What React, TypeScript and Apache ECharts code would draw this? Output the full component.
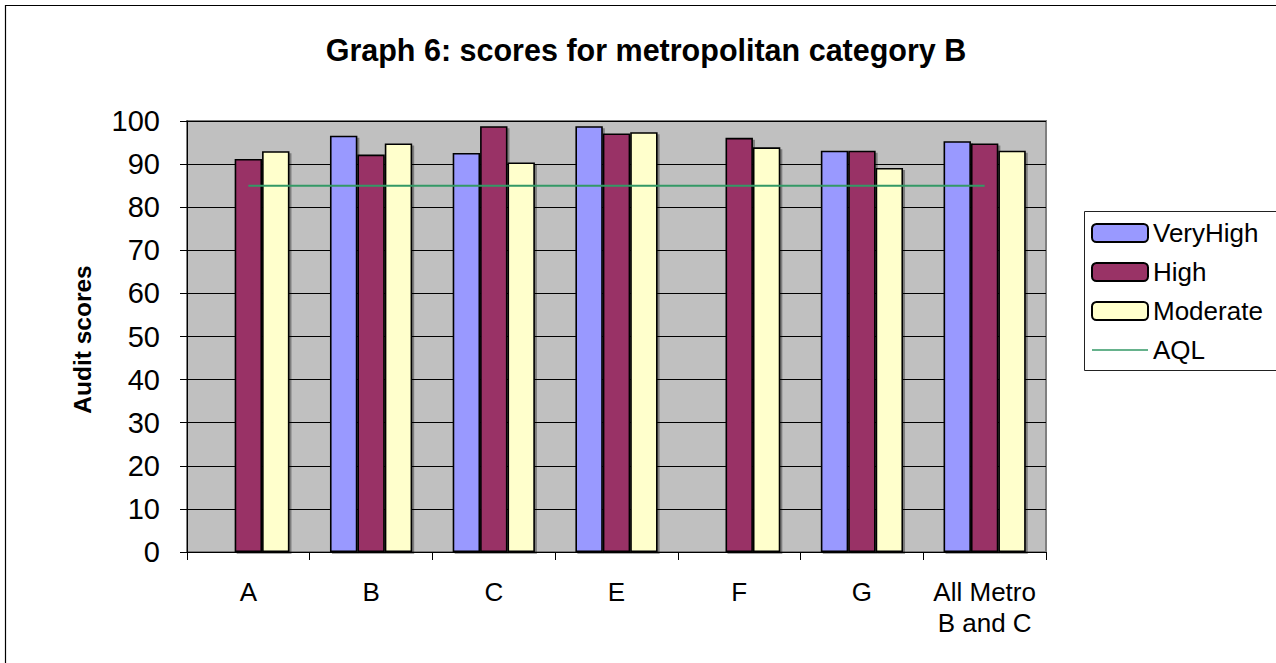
import React, { useEffect, useRef } from "react";
import * as echarts from "echarts";

const categories = ["A", "B", "C", "E", "F", "G", "All Metro\nB and C"];
const veryHigh = [null, 96.6, 92.6, 98.8, null, 93.1, 95.3];
const high = [91.2, 92.2, 98.8, 97.1, 96.1, 93.1, 94.8];
const moderate = [93.0, 94.8, 90.4, 97.4, 93.9, 89.1, 93.1];
const aql = [85, 85, 85, 85, 85, 85, 85];
const yTicks = [0, 10, 20, 30, 40, 50, 60, 70, 80, 90, 100];

export default function App() {
  const ref = useRef<HTMLDivElement>(null);
  useEffect(() => {
    if (!ref.current) return;
    const chart = echarts.init(ref.current, undefined, { renderer: "svg" });
    const font = "Arial, 'Liberation Sans', sans-serif";
    const barStyle = (color: string) => ({
      color,
      borderColor: "#000",
      borderWidth: 1.6,
      shadowColor: "rgba(0,0,0,0.35)",
      shadowOffsetX: 2,
      shadowOffsetY: 2,
      shadowBlur: 0,
    });
    chart.setOption({
      animation: false,
      textStyle: { fontFamily: font },
      title: {
        text: "Graph 6: scores for metropolitan category B",
        left: 641,
        textAlign: "center",
        top: 29,
        textStyle: { fontSize: 30.5, fontWeight: "bold", color: "#000", fontFamily: font },
      },
      graphic: [
        {
          type: "polyline",
          shape: { points: [[5.5, 700], [5.5, 5.5], [1400, 5.5]] },
          style: { fill: "none", stroke: "#000", lineWidth: 1.2 },
          silent: true,
          z: -10,
        },
        {
          type: "rect",
          shape: { x: 187, y: 121, width: 859, height: 431 },
          style: { fill: "none", stroke: "#808080", lineWidth: 2 },
          silent: true,
          z: 0,
        },
        {
          type: "polyline",
          shape: { points: [[1400, 211.5], [1084.5, 211.5], [1084.5, 370.5], [1400, 370.5]] },
          style: { fill: "none", stroke: "#222", lineWidth: 1 },
          silent: true,
          z: -5,
        },
      ],
      grid: { left: 187, top: 121, width: 859, height: 431, backgroundColor: "#C0C0C0", show: true, borderWidth: 0 },
      legend: {
        orient: "vertical",
        left: 1084,
        top: 211,
        itemWidth: 56,
        itemHeight: 18,
        itemGap: 13,
        padding: [9, 5, 8, 7],
        borderWidth: 0,
        textStyle: { fontSize: 26, color: "#000", lineHeight: 26, fontFamily: font },
        data: [
          { name: "VeryHigh" },
          { name: "High" },
          { name: "Moderate" },
          { name: "AQL", icon: "path://M0,0L56,0L56,1.6L0,1.6Z" },
        ],
      },
      xAxis: {
        type: "category",
        data: categories,
        boundaryGap: true,
        axisLine: { lineStyle: { color: "#000", width: 1 } },
        axisTick: { show: true, length: 8, interval: 0, lineStyle: { color: "#000" } },
        axisLabel: { fontSize: 26, color: "#000", margin: 24, lineHeight: 31, interval: 0 },
      },
      yAxis: {
        type: "value",
        min: 0,
        max: 100,
        interval: 10,
        name: "Audit scores",
        nameLocation: "middle",
        nameGap: 92,
        nameRotate: 90,
        nameTextStyle: { fontSize: 24.5, fontWeight: "bold", color: "#000", fontFamily: font, padding: [0, 6, 0, 0] },
        axisLine: { show: true, lineStyle: { color: "#000", width: 1 } },
        axisTick: { show: true, length: 7, lineStyle: { color: "#000" } },
        axisLabel: {
          fontSize: 29,
          color: "#000",
          margin: 27,
          formatter: (v: number) => (yTicks.includes(v) ? String(v) : ""),
        },
        splitLine: { show: true, lineStyle: { color: "#000", width: 1 } },
      },
      series: [
        {
          name: "VeryHigh",
          type: "bar",
          data: veryHigh,
          barGap: "0%",
          barCategoryGap: "33%",
          itemStyle: barStyle("#9999FF"),
        },
        { name: "High", type: "bar", data: high, barGap: "0%", barCategoryGap: "33%", itemStyle: barStyle("#993366") },
        { name: "Moderate", type: "bar", data: moderate, barGap: "0%", barCategoryGap: "33%", itemStyle: barStyle("#FFFFCC") },
        {
          name: "AQL",
          type: "line",
          data: aql,
          symbol: "none",
          lineStyle: { color: "#339966", width: 2 },
          itemStyle: { color: "#339966" },
          z: 5,
        },
      ],
    });
    return () => chart.dispose();
  }, []);
  return (
    <div
      ref={ref}
      style={{ position: "fixed", left: 0, top: 0, width: 1276, height: 663, background: "#fff" }}
    />
  );
}
